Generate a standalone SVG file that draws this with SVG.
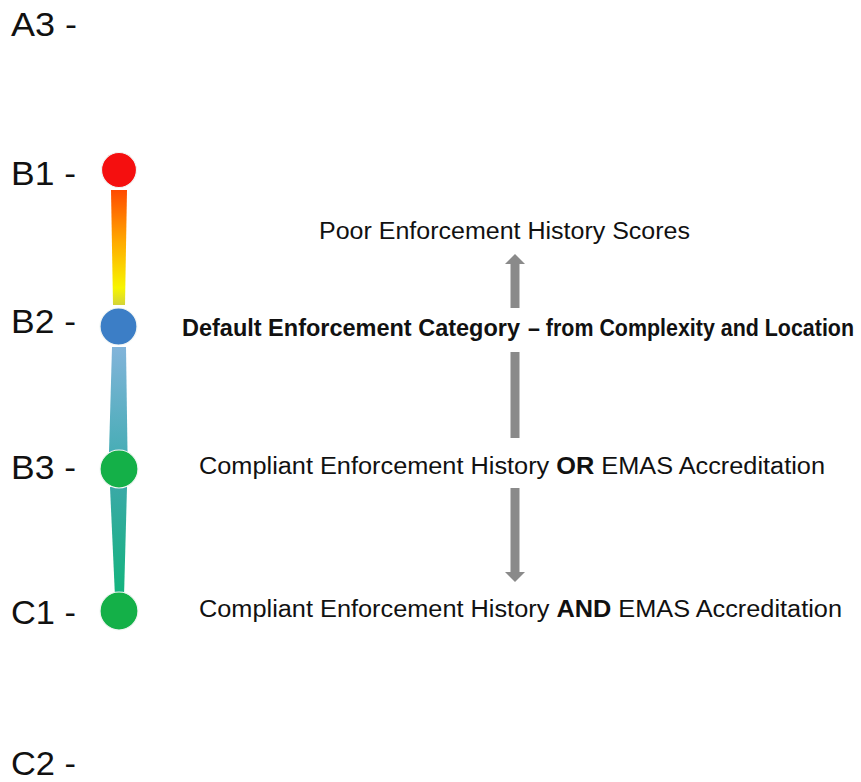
<svg xmlns="http://www.w3.org/2000/svg" width="861" height="782" viewBox="0 0 861 782">
  <style>
    .lbl { font-family: "Liberation Sans", Arial, sans-serif; font-size: 33px; fill: #111; }
    .txt { font-family: "Liberation Sans", Arial, sans-serif; font-size: 23px; fill: #111; }
    .b { font-weight: bold; }
    .arrow { stroke: #8a8a8a; stroke-width: 9; fill: none; }
    .dot { stroke: #f2f6f4; stroke-width: 1.2; }
  </style>
  <defs>
    <linearGradient id="g1" x1="0" y1="0" x2="0" y2="1">
      <stop offset="0" stop-color="#ff4a00"/>
      <stop offset="0.45" stop-color="#ffaa00"/>
      <stop offset="0.85" stop-color="#f7f500"/>
      <stop offset="1" stop-color="#d4d438"/>
    </linearGradient>
    <linearGradient id="g2" x1="0" y1="0" x2="0" y2="1">
      <stop offset="0" stop-color="#82b4da"/>
      <stop offset="1" stop-color="#48adb6"/>
    </linearGradient>
    <linearGradient id="g3" x1="0" y1="0" x2="0" y2="1">
      <stop offset="0" stop-color="#3aa9a6"/>
      <stop offset="1" stop-color="#12b47c"/>
    </linearGradient>
    <marker id="ah" viewBox="0 0 10 20" refX="0" refY="10" markerWidth="10" markerHeight="20" markerUnits="userSpaceOnUse" orient="auto">
      <path d="M0,0 L10,10 L0,20 Z" fill="#8a8a8a"/>
    </marker>
  </defs>

  <g id="labels">
    <text class="lbl" x="11" y="36" textLength="66" lengthAdjust="spacingAndGlyphs">A3 -</text>
    <text class="lbl" x="11" y="185" textLength="65" lengthAdjust="spacingAndGlyphs">B1 -</text>
    <text class="lbl" x="11" y="333" textLength="65" lengthAdjust="spacingAndGlyphs">B2 -</text>
    <text class="lbl" x="11" y="479" textLength="65" lengthAdjust="spacingAndGlyphs">B3 -</text>
    <text class="lbl" x="11" y="624" textLength="65" lengthAdjust="spacingAndGlyphs">C1 -</text>
    <text class="lbl" x="11" y="775" textLength="65" lengthAdjust="spacingAndGlyphs">C2 -</text>
  </g>

  <g id="scale-bars">
    <polygon points="111,190 127,190 125,305 113,305" fill="url(#g1)"/>
    <polygon points="112,347 126,347 127.5,452 109,452" fill="url(#g2)"/>
    <polygon points="110,487 127,487 124,597 115,597" fill="url(#g3)"/>
  </g>

  <g id="node-b1"><circle class="dot" cx="119" cy="170" r="17.5" fill="#f50f0f"/></g>
  <g id="node-b2"><circle class="dot" cx="118.5" cy="326.5" r="18.5" fill="#3c7ec6"/></g>
  <g id="node-b3"><circle class="dot" cx="119" cy="469" r="19" fill="#14b048"/></g>
  <g id="node-c1"><circle class="dot" cx="119" cy="611" r="19" fill="#14b048"/></g>

  <g id="connectors">
    <line class="arrow" x1="515" y1="308" x2="515" y2="264" marker-end="url(#ah)"/>
    <line class="arrow" x1="515" y1="352" x2="515" y2="438"/>
    <line class="arrow" x1="515" y1="488" x2="515" y2="572" marker-end="url(#ah)"/>
  </g>

  <g id="node-poor">
    <text class="txt" x="319" y="239" textLength="371" lengthAdjust="spacingAndGlyphs">Poor Enforcement History Scores</text>
  </g>
  <g id="node-default">
    <text class="txt b" x="182" y="336" textLength="338" lengthAdjust="spacingAndGlyphs">Default Enforcement Category</text>
    <text class="txt b" x="528" y="336" font-size="19" textLength="326" lengthAdjust="spacingAndGlyphs">– from Complexity and Location</text>
  </g>
  <g id="node-or">
    <text class="txt" x="199" y="474" textLength="626" lengthAdjust="spacingAndGlyphs">Compliant Enforcement History <tspan class="b">OR</tspan> EMAS Accreditation</text>
  </g>
  <g id="node-and">
    <text class="txt" x="199" y="617" textLength="643" lengthAdjust="spacingAndGlyphs">Compliant Enforcement History <tspan class="b">AND</tspan> EMAS Accreditation</text>
  </g>
</svg>
